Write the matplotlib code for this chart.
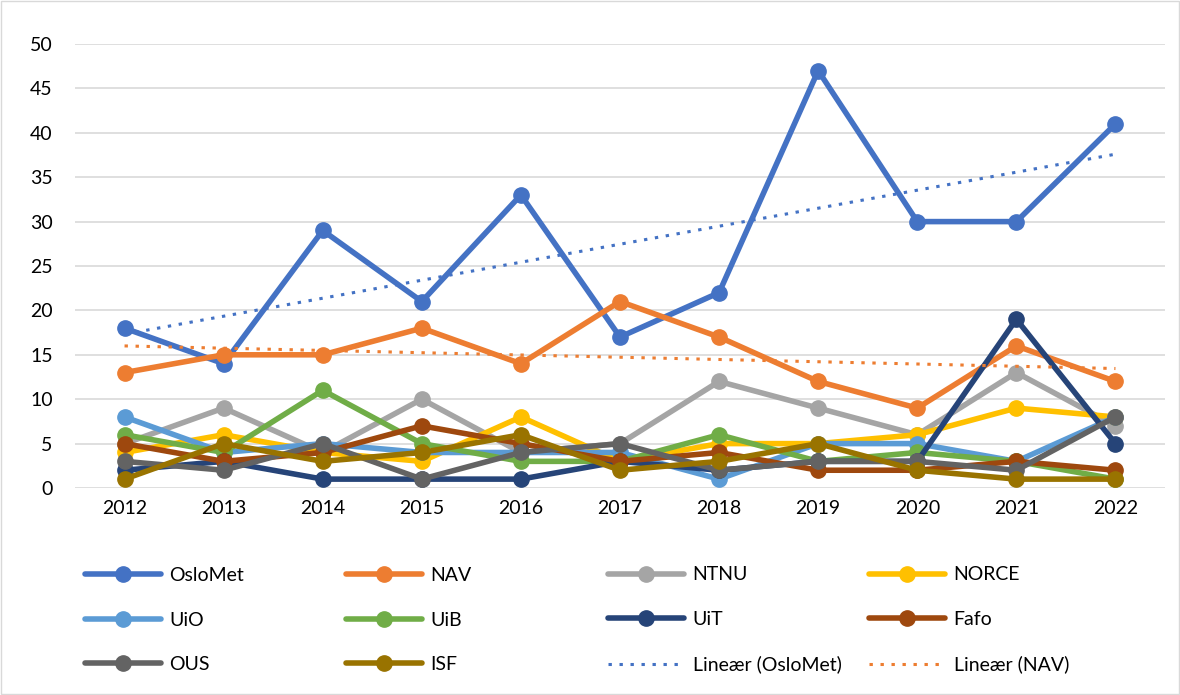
import matplotlib
matplotlib.use("Agg")
import matplotlib.pyplot as plt
import numpy as np

years = ["2012", "2013", "2014", "2015", "2016", "2017", "2018", "2019", "2020", "2021", "2022"]
oslomet = [18, 14, 29, 21, 33, 17, 22, 47, 30, 30, 41]
nav = [13, 15, 15, 18, 14, 21, 17, 12, 9, 16, 12]
ntnu = [5, 9, 4, 10, 4, 5, 12, 9, 6, 13, 7]
norce = [4, 6, 4, 3, 8, 3, 5, 5, 6, 9, 8]
uio = [8, 4, 5, 4, 4, 4, 1, 5, 5, 3, 8]
uib = [6, 4, 11, 5, 3, 3, 6, 3, 4, 3, 1]
uit = [2, 3, 1, 1, 1, 3, 2, 3, 3, 19, 5]
fafo = [5, 3, 4, 7, 5, 3, 4, 2, 2, 3, 2]
ous = [3, 2, 5, 1, 4, 5, 2, 3, 3, 2, 8]
isf = [1, 5, 3, 4, 6, 2, 3, 5, 2, 1, 1]

series = [
    ("OsloMet", oslomet, "#4472C4"),
    ("NAV", nav, "#ED7D31"),
    ("NTNU", ntnu, "#A5A5A5"),
    ("NORCE", norce, "#FFC000"),
    ("UiO", uio, "#5B9BD5"),
    ("UiB", uib, "#70AD47"),
    ("UiT", uit, "#264478"),
    ("Fafo", fafo, "#9E480E"),
    ("OUS", ous, "#636363"),
    ("ISF", isf, "#997300"),
]

plt.rcParams['font.family'] = ['Lato', 'DejaVu Sans']

fig = plt.figure(figsize=(11.8, 6.95), dpi=100)
ax = fig.add_axes([75/1180, 1-488/695, 1090/1180, 444/695])
x = np.arange(len(years))

handles = {}
for name, vals, col in series:
    h, = ax.plot(x, vals, color=col, lw=4.0, marker='o', ms=11, label=name,
                 solid_joinstyle='round', solid_capstyle='round', zorder=3)
    handles[name] = h

for name, vals, col in [("OsloMet", oslomet, "#4472C4"), ("NAV", nav, "#ED7D31")]:
    k, b = np.polyfit(x, vals, 1)
    h, = ax.plot(x, k*x + b, color=col, lw=2.2, ls=(0, (1.1, 2.5)), zorder=4,
                 dash_capstyle='butt', label=f"Lineær ({name})")
    handles[f"Lineær ({name})"] = h

ax.set_xlim(-0.5, 10.5)
ax.set_ylim(0, 50)
ax.set_yticks(range(0, 51, 5))
ax.set_xticks(x)
ax.set_xticklabels(years)
ax.grid(axis='y', color='#D9D9D9', lw=1.2)
ax.set_axisbelow(True)
for s in ax.spines.values():
    s.set_visible(False)
ax.tick_params(length=0, labelsize=14, colors='#000000')
ax.tick_params(axis='x', pad=9)
ax.tick_params(axis='y', pad=16)

columns = [
    ["OsloMet", "UiO", "OUS"],
    ["NAV", "UiB", "ISF"],
    ["NTNU", "UiT", "Lineær (OsloMet)"],
    ["NORCE", "Fafo", "Lineær (NAV)"],
]
col_x = [85, 346, 608, 869]
for cx, names in zip(col_x, columns):
    fig.legend([handles[n] for n in names], names, loc='center left',
               bbox_to_anchor=(cx/1180, 1-620/695), frameon=False, fontsize=14,
               handlelength=3.9, labelspacing=1.42, handletextpad=0.45,
               borderpad=0, borderaxespad=0)

fig.patches.append(plt.Rectangle((0.001, 0.001), 0.998, 0.998, transform=fig.transFigure,
                                 fill=False, edgecolor='#D9D9D9', lw=1))
fig.savefig("out.png", dpi=100)
